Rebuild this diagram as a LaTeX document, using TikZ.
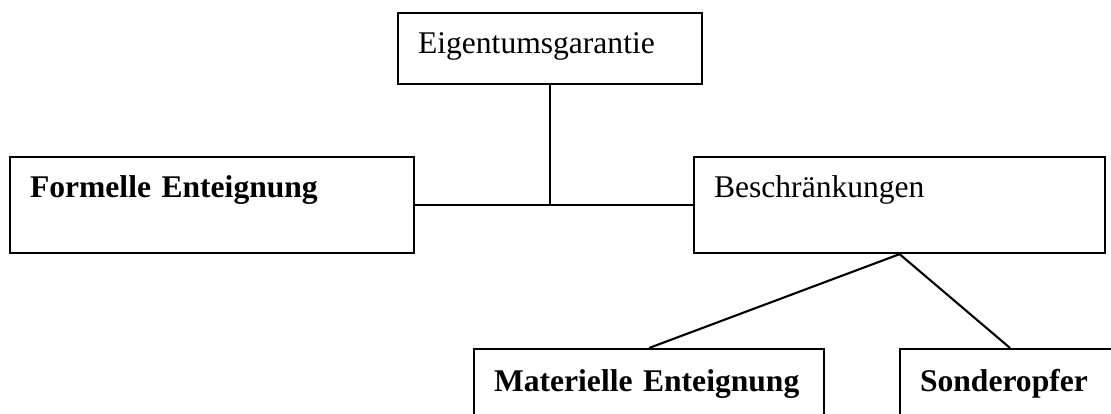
\documentclass[tikz,border=0pt,12pt]{standalone}
\usepackage{fontspec}
\setmainfont{Liberation Serif}

\begin{document}
\begin{tikzpicture}[x=0.38pt,y=-0.38pt,thick,
  box/.style={draw,anchor=north west,inner xsep=7.6pt,inner ysep=0pt,align=left,text height=15.2pt,text depth=21.3pt},
  lowbox/.style={box,text height=16.3pt,text depth=20pt}]
\useasboundingbox (0,0) rectangle (1111,414);
\clip (0,0) rectangle (1111,414);
\node[box,text width=100.3pt,text depth=11.8pt] (E) at (397,12) {Eigentumsgarantie};
\node[box,text width=138.3pt] (F) at (9,156) {\bfseries Formelle Enteignung};
\node[box,text width=141pt] (B) at (693,156) {Beschränkungen};
\node[lowbox,text width=117.8pt] (M) at (473,348) {\bfseries Materielle Enteignung};
\node[lowbox,text width=68.4pt] (S) at (899,348) {\bfseries Sonderopfer};
\draw (E.south) -- (E.south |- F.east);
\draw (F.east) -- (B.west);
\draw (B.south) -- (M.north);
\draw (B.south) -- (S.north);
\end{tikzpicture}
\end{document}
